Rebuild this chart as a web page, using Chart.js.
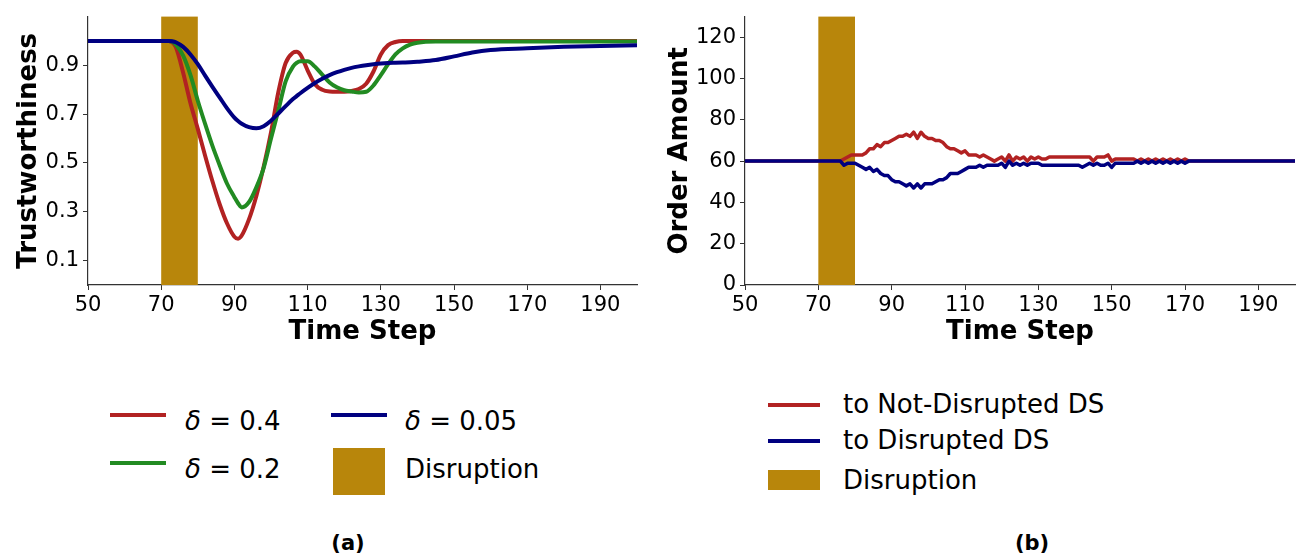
<!DOCTYPE html>
<html>
<head>
<meta charset="utf-8">
<script src="https://cdn.jsdelivr.net/npm/chart.js@4.4.0/dist/chart.umd.min.js"></script>
<style>
  html, body { margin: 0; padding: 0; background: #fff; }
  body { width: 1302px; height: 554px; position: relative; overflow: hidden; font-family: "DejaVu Sans", sans-serif; color: #000; }
  canvas { position: absolute; top: 0; }
  .lg { position: absolute; font-size: 26px; line-height: 30px; white-space: nowrap; }
  .hl { position: absolute; height: 4px; }
  .box { position: absolute; background: #b8860b; }
  .cap { position: absolute; font-weight: bold; font-size: 21px; line-height: 26px; width: 80px; text-align: center; }
</style>
</head>
<body>
<canvas id="trust" width="651" height="360" style="left:0"></canvas>
<canvas id="order" width="651" height="360" style="left:651px"></canvas>

<!-- legend (a) -->
<div class="hl" style="left:110px;top:413px;width:56px;background:#b22222"></div>
<div class="lg" style="left:185px;top:406px"><i>δ</i> = 0.4</div>
<div class="hl" style="left:110px;top:461px;width:56px;background:#228b22"></div>
<div class="lg" style="left:185px;top:454px"><i>δ</i> = 0.2</div>
<div class="hl" style="left:331px;top:413px;width:56px;background:#000080"></div>
<div class="lg" style="left:405px;top:406px"><i>δ</i> = 0.05</div>
<div class="box" style="left:333px;top:448px;width:52px;height:47px"></div>
<div class="lg" style="left:405px;top:454px">Disruption</div>

<!-- legend (b) -->
<div class="hl" style="left:768px;top:403px;width:52px;background:#b22222"></div>
<div class="lg" style="left:843px;top:389px">to Not-Disrupted DS</div>
<div class="hl" style="left:768px;top:439px;width:52px;background:#000080"></div>
<div class="lg" style="left:843px;top:425px">to Disrupted DS</div>
<div class="box" style="left:768px;top:470px;width:52px;height:20px"></div>
<div class="lg" style="left:843px;top:465px">Disruption</div>

<div class="cap" style="left:308px;top:530px">(a)</div>
<div class="cap" style="left:992px;top:530px">(b)</div>

<script>
// disruption window (time steps)
const disruption = [70, 80];

// (a) trustworthiness
const trustSteps = [50, 60, 70, 72, 73, 74, 76, 78, 80, 82, 84, 86, 88, 90, 91, 92, 94, 96, 98, 100,
  102, 104, 106, 107, 108, 110, 112, 114, 116, 118, 120, 122, 124, 126, 128, 130, 132, 134, 136, 138, 140,
  145, 150, 155, 160, 170, 180, 190, 200];
const trust04 = [1.0, 1.0, 1.0, 1.0, 0.995, 0.975, 0.87, 0.745, 0.64, 0.53, 0.425, 0.33, 0.252, 0.198, 0.19, 0.203, 0.27, 0.365, 0.485, 0.625,
  0.79, 0.91, 0.952, 0.956, 0.945, 0.88, 0.823, 0.8, 0.793, 0.792, 0.792, 0.795, 0.803, 0.825, 0.875, 0.945, 0.983, 0.996, 1.0, 1.0, 1.0,
  1.0, 1.0, 1.0, 1.0, 1.0, 1.0, 1.0, 1.0];
const trust02 = [1.0, 1.0, 1.0, 1.0, 0.997, 0.985, 0.94, 0.86, 0.755, 0.66, 0.57, 0.49, 0.415, 0.36, 0.335, 0.318, 0.34, 0.40, 0.48, 0.60,
  0.715, 0.835, 0.895, 0.91, 0.917, 0.917, 0.895, 0.862, 0.83, 0.81, 0.798, 0.793, 0.789, 0.792, 0.818, 0.86, 0.905, 0.945, 0.97, 0.985, 0.993,
  0.998, 0.998, 0.998, 0.998, 0.998, 0.998, 0.998, 0.998];
const trust005 = [1.0, 1.0, 1.0, 1.0, 0.999, 0.995, 0.976, 0.945, 0.905, 0.858, 0.812, 0.768, 0.724, 0.686, 0.672, 0.661, 0.647, 0.642, 0.651, 0.673,
  0.703, 0.733, 0.762, 0.774, 0.786, 0.808, 0.828, 0.845, 0.86, 0.872, 0.882, 0.89, 0.896, 0.901, 0.905, 0.908, 0.91, 0.911, 0.912, 0.913, 0.915,
  0.922, 0.937, 0.953, 0.963, 0.97, 0.976, 0.98, 0.983];
const trustTicks = [0.1, 0.3, 0.5, 0.7, 0.9];

// (b) order amounts
const orderSteps = [50,
  74, 75, 76, 77, 78, 79, 80, 81, 82, 83, 84, 85, 86, 87, 88, 89, 90,
  91, 92, 93, 94, 95, 96, 97, 98, 99, 100, 101, 102, 103, 104, 105, 106, 107, 108, 109, 110,
  111, 112, 113, 114, 115, 116, 117, 118, 119, 120, 121, 122, 123, 124, 125, 126, 127, 128, 129, 130,
  131, 132, 133, 134, 135, 136, 137, 138, 139, 140, 141, 142, 143, 144, 145, 146, 147, 148, 149, 150,
  151, 152, 153, 154, 155, 156, 157, 158, 159, 160, 161, 162, 163, 164, 165, 166, 167, 168, 169, 170,
  171, 172, 200];
const orderNotDisrupted = [60,
  60, 60, 60, 61, 62, 63, 63, 63, 63, 64, 66, 66, 68, 67, 69, 69, 70,
  71, 72, 72, 73, 72, 74, 71, 74, 72, 71, 71, 70, 70, 69, 67, 66, 66, 65, 64, 65,
  63, 63, 63, 62, 63, 62, 61, 60, 61, 62, 60, 63, 60, 62, 61, 62, 60, 62, 61, 62,
  61, 61, 62, 62, 62, 62, 62, 62, 62, 62, 62, 62, 62, 62, 60, 62, 62, 62, 63, 60,
  61, 61, 61, 61, 61, 61, 60, 61, 60, 61, 60, 61, 60, 61, 60, 61, 60, 61, 60, 61,
  60, 60, 60];
const orderDisrupted = [60,
  60, 60, 60, 58, 59, 59, 59, 58, 57, 56, 57, 55, 56, 54, 53, 53, 51,
  50, 50, 49, 48, 49, 47, 49, 47, 49, 49, 49, 50, 51, 51, 52, 54, 54, 54, 55, 56,
  57, 57, 57, 58, 57, 58, 58, 58, 58, 59, 57, 60, 58, 59, 58, 59, 58, 59, 59, 59,
  58, 58, 58, 58, 58, 58, 58, 58, 58, 58, 58, 57, 58, 59, 58, 59, 58, 58, 59, 57,
  59, 59, 59, 59, 59, 59, 60, 59, 60, 59, 60, 59, 60, 59, 60, 59, 60, 59, 60, 59,
  60, 60, 60];
const orderTicks = [0, 20, 40, 60, 80, 100, 120];

const timeTicks = [50, 70, 90, 110, 130, 150, 170, 190];

const RED = '#b22222', GREEN = '#228b22', NAVY = '#000080', GOLD = '#b8860b', AXIS = '#333';

const disruptionBand = {
  id: 'disruptionBand',
  beforeDatasetsDraw(chart) {
    const {ctx, chartArea, scales} = chart;
    const x0 = scales.x.getPixelForValue(disruption[0]);
    const x1 = scales.x.getPixelForValue(disruption[1]);
    ctx.save();
    ctx.fillStyle = GOLD;
    ctx.fillRect(x0, chartArea.top, x1 - x0, chartArea.bottom - chartArea.top);
    ctx.restore();
  }
};

const toPoints = (xs, ys) => xs.map((x, i) => ({x, y: ys[i]}));

function axes(yMax, yTicks, yLabel, yWidth, yFmt) {
  return {
    x: {
      type: 'linear', min: 50, max: 200,
      afterBuildTicks: s => { s.ticks = timeTicks.map(v => ({value: v})); },
      afterFit: s => { s.height = 75; },
      grid: { display: true, drawOnChartArea: false, drawTicks: true, tickLength: 5, tickColor: AXIS },
      border: { color: AXIS, width: 1.2 },
      ticks: { color: '#000', padding: 3, font: { family: 'DejaVu Sans', size: 21 }, maxRotation: 0 },
      title: { display: true, text: 'Time Step', color: '#000', padding: { top: 0, bottom: 12 },
        font: { family: 'DejaVu Sans', size: 26, weight: 'bold', lineHeight: 1.2 } }
    },
    y: {
      type: 'linear', min: 0, max: yMax,
      afterBuildTicks: s => { s.ticks = yTicks.map(v => ({value: v})); },
      afterFit: s => { s.width = yWidth; },
      grid: { display: true, drawOnChartArea: false, drawTicks: true, tickLength: 5, tickColor: AXIS },
      border: { color: AXIS, width: 1.2 },
      ticks: { color: '#000', padding: 4, font: { family: 'DejaVu Sans', size: 21 }, callback: yFmt },
      title: { display: true, text: yLabel, color: '#000', padding: { top: 14, bottom: 0 },
        font: { family: 'DejaVu Sans', size: 26, weight: 'bold', lineHeight: 1.2 } }
    }
  };
}

const common = {
  responsive: false,
  animation: false,
  devicePixelRatio: 1,
  plugins: { legend: { display: false }, tooltip: { enabled: false } },
  elements: { point: { radius: 0 } }
};

// lower order is drawn on top: navy last, as in the figure
new Chart(document.getElementById('trust'), {
  type: 'line',
  data: {
    datasets: [
      { label: 'δ = 0.4', data: toPoints(trustSteps, trust04), borderColor: RED, borderWidth: 4, cubicInterpolationMode: 'monotone', order: 3 },
      { label: 'δ = 0.2', data: toPoints(trustSteps, trust02), borderColor: GREEN, borderWidth: 4, cubicInterpolationMode: 'monotone', order: 2 },
      { label: 'δ = 0.05', data: toPoints(trustSteps, trust005), borderColor: NAVY, borderWidth: 4, cubicInterpolationMode: 'monotone', order: 1 }
    ]
  },
  options: Object.assign({}, common, {
    layout: { padding: { top: 7, right: 14, left: 0, bottom: 0 } },
    scales: axes(1.1, trustTicks, 'Trustworthiness', 88, v => v.toFixed(1))
  }),
  plugins: [disruptionBand]
});

new Chart(document.getElementById('order'), {
  type: 'line',
  data: {
    datasets: [
      { label: 'to Not-Disrupted DS', data: toPoints(orderSteps, orderNotDisrupted), borderColor: RED, borderWidth: 3.5, tension: 0, borderJoinStyle: 'round', order: 2 },
      { label: 'to Disrupted DS', data: toPoints(orderSteps, orderDisrupted), borderColor: NAVY, borderWidth: 3.5, tension: 0, borderJoinStyle: 'round', order: 1 }
    ]
  },
  options: Object.assign({}, common, {
    layout: { padding: { top: 7, right: 7, left: 0, bottom: 0 } },
    scales: axes(130, orderTicks, 'Order Amount', 94, v => v)
  }),
  plugins: [disruptionBand]
});
</script>
</body>
</html>
